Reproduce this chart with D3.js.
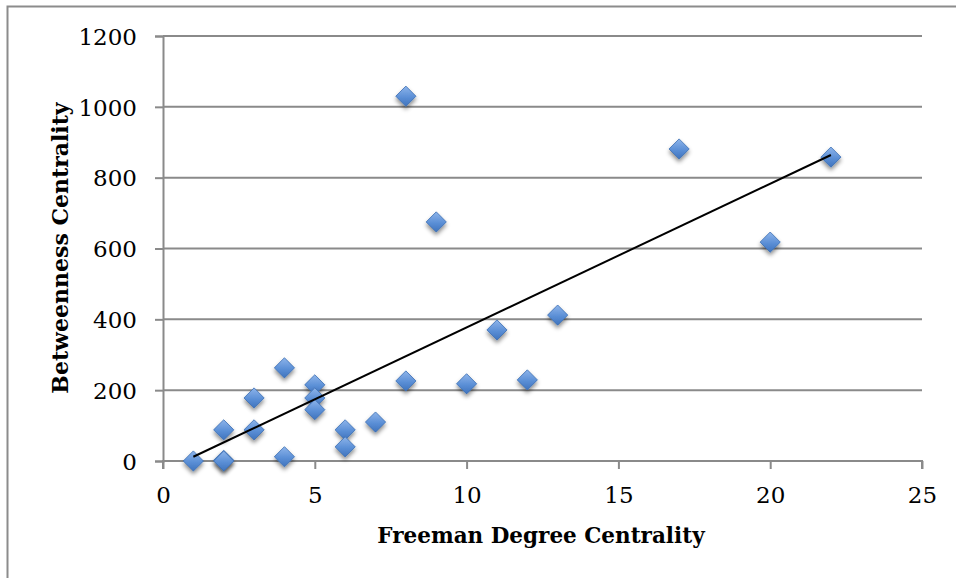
<!DOCTYPE html>
<html>
<head>
<meta charset="utf-8">
<script src="https://cdn.jsdelivr.net/npm/d3@7"></script>
<style>
  body { margin: 0; background: #fff; }
  svg { display: block; }
</style>
</head>
<body>
<div id="wrapper"></div>
<script>
// degree vs betweenness
const degree = [1, 2, 2, 2, 3, 3, 4, 4, 5, 5, 5, 6, 6, 7, 8, 8, 9, 10, 11, 12, 13, 17, 20, 22];
const betweenness = [0, 2, 0, 88, 178, 88, 263, 12, 215, 178, 145, 88, 40, 110, 1030, 226, 675, 218, 370, 229, 412, 881, 618, 858];
// linear trendline end points
const trendX = [1, 22];
const trendY = [12, 864];
const xTicks = [0, 5, 10, 15, 20, 25];
const yTicks = [0, 200, 400, 600, 800, 1000, 1200];

function buildPlot() {
    const data = degree.map((d, i) => ({x: d, y: betweenness[i]}));
    const xAccessor = d => d.x;
    const yAccessor = d => d.y;

    const dimension = {
        width: 956,
        height: 578,
        margin: {top: 36, left: 163, bottom: 117, right: 34}
    };
    dimension.boundedWidth = dimension.width - dimension.margin.left - dimension.margin.right;
    dimension.boundedHeight = dimension.height - dimension.margin.top - dimension.margin.bottom;

    const svg = d3.select("#wrapper").append("svg")
        .attr("width", dimension.width)
        .attr("height", dimension.height);

    const defs = svg.append("defs");
    const grad = defs.append("linearGradient")
        .attr("id", "diamondFill")
        .attr("x1", 0).attr("y1", 0).attr("x2", 0).attr("y2", 1);
    grad.append("stop").attr("offset", "0%").attr("stop-color", "#8db4ea");
    grad.append("stop").attr("offset", "55%").attr("stop-color", "#5b8fd6");
    grad.append("stop").attr("offset", "100%").attr("stop-color", "#3f73bd");
    const shadow = defs.append("filter").attr("id", "shadow")
        .attr("x", "-50%").attr("y", "-50%").attr("width", "200%").attr("height", "200%");
    shadow.append("feDropShadow")
        .attr("dx", 0).attr("dy", 3).attr("stdDeviation", 2.2)
        .attr("flood-color", "#000").attr("flood-opacity", 0.45);

    // outer chart frame
    svg.append("rect")
        .attr("x", 7.5).attr("y", 6.5)
        .attr("width", 960).attr("height", 600)
        .attr("fill", "none").attr("stroke", "#8c8c8c").attr("stroke-width", 2);

    const bounded = svg.append("g")
        .attr("transform", `translate(${dimension.margin.left},${dimension.margin.top})`);

    const xScaler = d3.scaleLinear()
        .domain([0, 25])
        .range([0, dimension.boundedWidth]);
    const yScaler = d3.scaleLinear()
        .domain([0, 1200])
        .range([dimension.boundedHeight, 0]);

    // gridlines
    bounded.append("g")
        .selectAll("line")
        .data(yTicks.filter(t => t > 0))
        .join("line")
        .attr("x1", 0).attr("x2", dimension.boundedWidth)
        .attr("y1", d => yScaler(d)).attr("y2", d => yScaler(d))
        .attr("stroke", "#8a8a8a").attr("stroke-width", 2);

    const yAxis = d3.axisLeft(yScaler).tickValues(yTicks).tickFormat(d3.format("d"))
        .tickSize(8).tickPadding(18);
    const yAxisG = bounded.append("g").call(yAxis);
    const xAxis = d3.axisBottom(xScaler).tickValues(xTicks).tickFormat(d3.format("d"))
        .tickSize(8).tickPadding(18);
    const xAxisG = bounded.append("g")
        .attr("transform", `translate(0,${dimension.boundedHeight})`)
        .call(xAxis);

    [yAxisG, xAxisG].forEach(g => {
        g.select(".domain").attr("stroke", "#8a8a8a").attr("stroke-width", 2);
        g.selectAll(".tick line").attr("stroke", "#8a8a8a").attr("stroke-width", 2);
        g.selectAll(".tick text")
            .attr("fill", "#000")
            .style("font-family", "'DejaVu Serif', serif")
            .style("font-size", "23px");
    });
    yAxisG.selectAll(".tick text").attr("dy", "0.36em");
    xAxisG.select(".domain").attr("d", `M0,8V0H${dimension.boundedWidth}V8`);

    // points
    const diamond = d3.symbol().type(d3.symbolDiamond2).size(260);
    bounded.append("g")
        .selectAll("path")
        .data(data)
        .join("path")
        .attr("d", diamond)
        .attr("transform", d => `translate(${xScaler(xAccessor(d))},${yScaler(yAccessor(d))})`)
        .attr("fill", "url(#diamondFill)")
        .attr("stroke", "#3a6db3")
        .attr("stroke-width", 0.8)
        .attr("filter", "url(#shadow)");

    // trendline
    const lineGenerator = d3.line()
        .x((d, i) => xScaler(d))
        .y((d, i) => yScaler(trendY[i]));
    bounded.append("path")
        .attr("d", lineGenerator(trendX))
        .attr("fill", "none")
        .attr("stroke", "black")
        .attr("stroke-width", 2);

    // axis titles
    svg.append("text")
        .attr("x", 541).attr("y", 543)
        .attr("text-anchor", "middle")
        .style("font-family", "'DejaVu Serif', serif")
        .style("font-weight", "bold")
        .style("font-size", "21.5px")
        .text("Freeman Degree Centrality");
    svg.append("text")
        .attr("transform", "translate(68,248) rotate(-90)")
        .attr("text-anchor", "middle")
        .style("font-family", "'DejaVu Serif', serif")
        .style("font-weight", "bold")
        .style("font-size", "22px")
        .text("Betweenness Centrality");
}

buildPlot();
</script>
</body>
</html>
